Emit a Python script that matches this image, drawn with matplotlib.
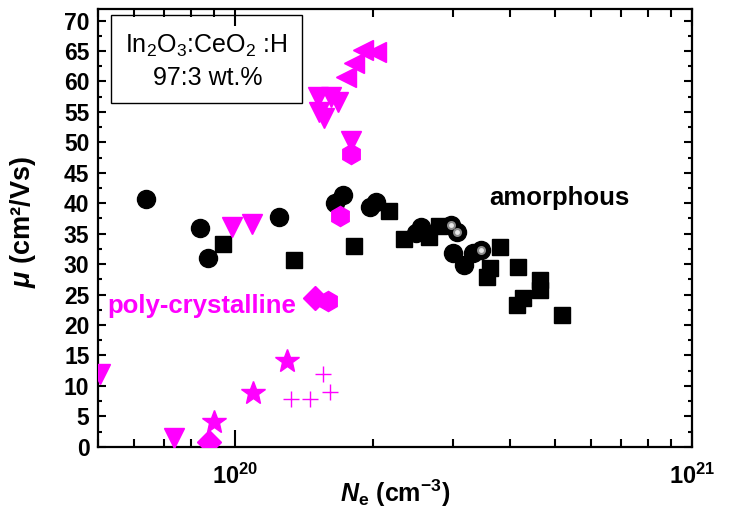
import matplotlib
matplotlib.use("Agg")
import matplotlib.pyplot as plt
from matplotlib.patches import Rectangle
from matplotlib.ticker import FixedLocator, MultipleLocator, NullFormatter
import numpy as np

plt.rcParams['font.family'] = ['Liberation Sans', 'DejaVu Sans']
plt.rcParams['mathtext.fontset'] = 'custom'
plt.rcParams['mathtext.rm'] = 'Liberation Sans'
plt.rcParams['mathtext.it'] = 'Liberation Sans:italic'
plt.rcParams['mathtext.bf'] = 'Liberation Sans:bold'
plt.rcParams['mathtext.bfit'] = 'Liberation Sans:bold:italic'
plt.rcParams['mathtext.default'] = 'regular'

MAG = '#ff00ff'

# carrier density (1e20 cm^-3) and Hall mobility (cm2/Vs)
amor_circ_ne = [0.637, 0.838, 0.870, 1.249, 1.719, 1.657, 2.035, 1.977,
                2.554, 2.49, 2.96, 3.06, 3.0, 3.17, 3.445, 3.315]
amor_circ_mu = [40.65, 36.0, 30.95, 37.7, 41.35, 40.0, 40.25, 39.45,
                36.15, 35.05, 36.4, 35.3, 31.8, 29.85, 32.3, 31.8]

amor_sq_ne = [0.938, 1.342, 1.817, 2.17, 2.34, 2.66, 2.80, 3.79, 3.62,
              3.55, 4.16, 4.64, 4.64, 4.27, 4.13, 5.18]
amor_sq_mu = [33.25, 30.7, 33.0, 38.8, 34.1, 34.4, 36.3, 32.85, 29.3,
              27.9, 29.6, 27.4, 25.75, 24.4, 23.3, 21.65]

# sphere-style points sitting on top of the circles
ball_ne = [2.96, 3.06, 3.445]
ball_mu = [36.4, 35.3, 32.3]

poly_down_ne = [0.507, 0.735, 0.983, 1.088, 1.515, 1.62, 1.676, 1.528, 1.568, 1.794]
poly_down_mu = [12.0, 1.4, 36.15, 36.6, 57.5, 57.5, 56.7, 55.0, 53.95, 50.3]

poly_left_ne = [1.90, 2.03, 1.824, 1.75]
poly_left_mu = [65.2, 64.8, 63.0, 60.8]

poly_hex_ne = [1.696, 1.794, 1.594]
poly_hex_mu = [37.9, 48.1, 24.0]

poly_dia_ne = [0.877, 1.497]
poly_dia_mu = [0.7, 24.4]

poly_star_ne = [0.899, 1.095, 1.298]
poly_star_mu = [4.1, 8.9, 14.1]

poly_plus_ne = [1.325, 1.46, 1.554, 1.613]
poly_plus_mu = [7.8, 7.8, 11.9, 8.95]


def ne(v):
    return np.array(v) * 1e20


fig = plt.figure(figsize=(7.38, 5.12), dpi=100)
ax = fig.add_axes([0.1324, 0.1275, 0.8053, 0.8549])

ax.plot(ne(amor_circ_ne), amor_circ_mu, 'o', ms=13, color='black', mec='black', zorder=3)
ax.plot(ne(amor_sq_ne), amor_sq_mu, 's', ms=12, color='black', mec='black', zorder=3)
ax.plot(ne(ball_ne), ball_mu, 'o', ms=6.5, color='#8a8a8a', mec='none', zorder=4)
ax.plot(ne(ball_ne), ball_mu, 'o', ms=3.5, color='#e8e8e8', mec='none', zorder=5)

ax.plot(ne(poly_down_ne), poly_down_mu, 'v', ms=15, color=MAG, mec=MAG, zorder=4)
ax.plot(ne(poly_left_ne), poly_left_mu, '<', ms=15, color=MAG, mec=MAG, zorder=4)
ax.plot(ne(poly_hex_ne), poly_hex_mu, 'h', ms=14.5, color=MAG, mec=MAG, zorder=4)
ax.plot(ne(poly_dia_ne), poly_dia_mu, 'D', ms=12, color=MAG, mec=MAG, zorder=4)
ax.plot(ne(poly_star_ne), poly_star_mu, '*', ms=18, color=MAG, mec=MAG, zorder=4)
ax.plot(ne(poly_plus_ne), poly_plus_mu, '+', ms=11, color=MAG, mew=1.0, zorder=4)

ax.set_xscale('log')
ax.set_xlim(5e19, 1e21)
ax.set_ylim(0, 71.9)

ax.xaxis.set_major_locator(FixedLocator([1e20, 1e21]))
ax.set_xticklabels([r'$\mathbf{10^{20}}$', r'$\mathbf{10^{21}}$'])
ax.xaxis.set_minor_locator(FixedLocator([k * 1e19 for k in range(5, 10)] +
                                        [k * 1e20 for k in range(2, 10)]))
ax.xaxis.set_minor_formatter(NullFormatter())
ax.yaxis.set_major_locator(MultipleLocator(5))
ax.yaxis.set_minor_locator(MultipleLocator(2.5))

ax.tick_params(axis='both', which='both', direction='in', top=True, right=True, width=1.5)
ax.tick_params(axis='x', which='major', length=12, pad=12, labelsize=17)
ax.tick_params(axis='x', which='minor', length=6)
ax.tick_params(axis='y', which='major', length=6, labelsize=16.5, pad=6)
ax.tick_params(axis='y', which='minor', length=3)
for lab in ax.get_yticklabels():
    lab.set_fontweight('bold')
for sp in ax.spines.values():
    sp.set_linewidth(1.6)

ax.set_xlabel(r'$\mathbfit{N}_{\mathbf{e}}$ (cm$^{\mathbf{-3}}$)', fontsize=18, fontweight='bold')
ax.set_ylabel(r'$\mathbfit{μ}$ (cm²/Vs)', fontsize=19.5, fontweight='bold')
ax.xaxis.set_label_coords(0.5, -0.07)
ax.yaxis.set_label_coords(-0.10, 0.514)

# sample description box
ax.add_patch(Rectangle((0.0224, 0.785), 0.3214, 0.201, transform=ax.transAxes,
                       fill=False, edgecolor='black', linewidth=1.0, zorder=6))
ax.text(0.183, 0.915, r'In$_2$O$_3$:CeO$_2$ :H', transform=ax.transAxes,
        ha='center', va='center', fontsize=18)
ax.text(0.185, 0.842, '97:3 wt.%', transform=ax.transAxes,
        ha='center', va='center', fontsize=18)

ax.text(5.135e20, 40.9, 'amorphous', ha='center', va='center',
        fontsize=18.5, fontweight='bold', color='black')
ax.text(0.847e20, 23.1, 'poly-crystalline', ha='center', va='center',
        fontsize=18.5, fontweight='bold', color=MAG)

fig.savefig('out.png', dpi=100)
